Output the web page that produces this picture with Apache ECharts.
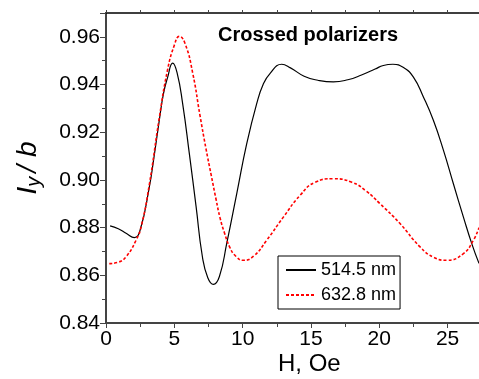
<!DOCTYPE html>
<html>
<head>
<meta charset="utf-8">
<script src="https://cdn.jsdelivr.net/npm/echarts@6/dist/echarts.min.js"></script>
<style>
  html, body { margin: 0; padding: 0; background: #fff; }
  #chart { width: 479px; height: 379px; }
</style>
</head>
<body>
<div id="chart"></div>
<script>
// 514.5 nm (black solid)
const greenH = [0.3, 0.9, 1.5, 2.07, 2.5, 3.17, 3.5, 3.9, 4.2, 4.51, 4.88, 5.2, 5.61, 6.1, 6.59, 7.05, 7.45, 7.86, 8.3, 8.84,
  9.57, 10.3, 11.03, 11.5, 12.0, 12.86, 13.5, 14.5, 15.5, 16.64, 17.7, 18.7, 19.7, 20.3, 21.0, 21.8, 22.5, 23.23, 23.96,
  24.7, 25.42, 26.16, 26.77, 27.3];
const greenI = [0.8807, 0.8795, 0.8775, 0.8758, 0.879, 0.897, 0.909, 0.925, 0.936, 0.943, 0.949, 0.945, 0.932, 0.911,
  0.889, 0.868, 0.859, 0.8562, 0.8595, 0.8735, 0.8943, 0.9152, 0.932, 0.940, 0.9446, 0.9485, 0.947, 0.9435, 0.9418,
  0.9411, 0.942, 0.944, 0.9465, 0.948, 0.9485, 0.947, 0.9431, 0.9348, 0.925, 0.9124, 0.8985, 0.8844, 0.8733, 0.865];

// 632.8 nm (red dashed)
const redH = [0.24, 0.9, 1.46, 2.2, 2.6, 3.17, 3.9, 4.5, 5.0, 5.37, 5.8, 6.34, 6.88, 7.32, 7.7, 8.05, 8.35, 8.66, 9.08,
  9.5, 10.05, 10.8, 11.76, 12.98, 14.2, 15.3, 16.64, 18.0, 19.0, 20.06, 21.52, 22.99, 24.0, 24.94, 26.16, 26.89, 27.3];
const redI = [0.8649, 0.8655, 0.8677, 0.8747, 0.881, 0.898, 0.926, 0.946, 0.9565, 0.9602, 0.957, 0.945, 0.927, 0.913,
  0.902, 0.892, 0.884, 0.878, 0.8715, 0.868, 0.8663, 0.868, 0.8747, 0.8844, 0.8935, 0.899, 0.9005, 0.899, 0.8955,
  0.890, 0.8817, 0.8719, 0.8675, 0.8663, 0.8691, 0.8747, 0.880];

const seriesNames = ['514.5 nm', '632.8 nm'];

const zip = (xs, ys) => xs.map((x, i) => [x, ys[i]]);

const chart = echarts.init(document.getElementById('chart'));
const font = 'Liberation Sans, Arial, sans-serif';
const axisColor = '#444';

chart.setOption({
  backgroundColor: '#fff',
  animation: false,
  textStyle: { fontFamily: font },
  title: {
    text: 'Crossed polarizers',
    left: 218,
    top: 25,
    padding: 0,
    textStyle: { fontSize: 20, fontWeight: 'bold', color: '#000', fontFamily: font }
  },
  grid: { left: 106, right: 0, top: 13, bottom: 56, containLabel: false },
  legend: {
    orient: 'vertical',
    left: 278,
    top: 256,
    padding: [5, 4, 5, 7],
    itemWidth: 30,
    itemHeight: 14,
    itemGap: 7,
    borderColor: '#000',
    borderWidth: 1,
    borderRadius: 0,
    itemStyle: { opacity: 0 },
    textStyle: { fontSize: 18, color: '#000', fontFamily: font, lineHeight: 14 },
    data: seriesNames
  },
  xAxis: [
    {
      type: 'value',
      min: 0,
      max: 27.3,
      interval: 5,
      axisLine: { show: true, lineStyle: { color: axisColor, width: 2 } },
      axisTick: { show: true, length: 5, lineStyle: { color: axisColor, width: 1 } },
      minorTick: { show: true, splitNumber: 2, length: 4, lineStyle: { color: axisColor } },
      splitLine: { show: false },
      axisLabel: { fontSize: 21, color: '#000', margin: 6, showMaxLabel: false, fontFamily: font }
    },
    {
      type: 'value',
      position: 'top',
      min: 0,
      max: 27.3,
      interval: 2.5,
      axisLine: { show: true, lineStyle: { color: '#000', width: 1.5 } },
      axisTick: { show: true, length: 3, lineStyle: { color: axisColor } },
      splitLine: { show: false },
      axisLabel: { show: false }
    }
  ],
  yAxis: {
    type: 'value',
    min: 0.84,
    max: 0.97,
    interval: 0.02,
    name: '{i|I}{s|y}{i|/ b}',
    nameLocation: 'middle',
    nameGap: 62,
    nameRotate: 90,
    nameTextStyle: {
      rich: {
        i: { fontSize: 28, fontStyle: 'italic', color: '#000', fontFamily: font },
        s: { fontSize: 20, fontStyle: 'italic', color: '#000', fontFamily: font, padding: [12, 4, 0, 0] }
      }
    },
    axisLine: { show: true, lineStyle: { color: axisColor, width: 2 } },
    axisTick: { show: true, length: 6, lineStyle: { color: axisColor } },
    minorTick: { show: true, splitNumber: 2, length: 4, lineStyle: { color: axisColor } },
    splitLine: { show: false },
    axisLabel: {
      fontSize: 21,
      color: '#000',
      margin: 6,
      showMaxLabel: false,
      fontFamily: font,
      formatter: v => v.toFixed(2)
    }
  },
  graphic: [
    {
      type: 'text',
      left: 278,
      top: 352,
      style: { text: 'H, Oe', fontSize: 24, fill: '#000', fontFamily: font }
    }
  ],
  series: [
    {
      name: seriesNames[0],
      type: 'line',
      data: zip(greenH, greenI),
      smooth: 0.5,
      symbol: 'none',
      clip: true,
      lineStyle: { color: '#000', width: 1.2 },
      itemStyle: { color: '#000' }
    },
    {
      name: seriesNames[1],
      type: 'line',
      data: zip(redH, redI),
      smooth: 0.5,
      symbol: 'none',
      clip: true,
      lineStyle: { color: '#ff0000', width: 1.6, type: [3, 2] },
      itemStyle: { color: '#ff0000' }
    }
  ]
});
</script>
</body>
</html>
